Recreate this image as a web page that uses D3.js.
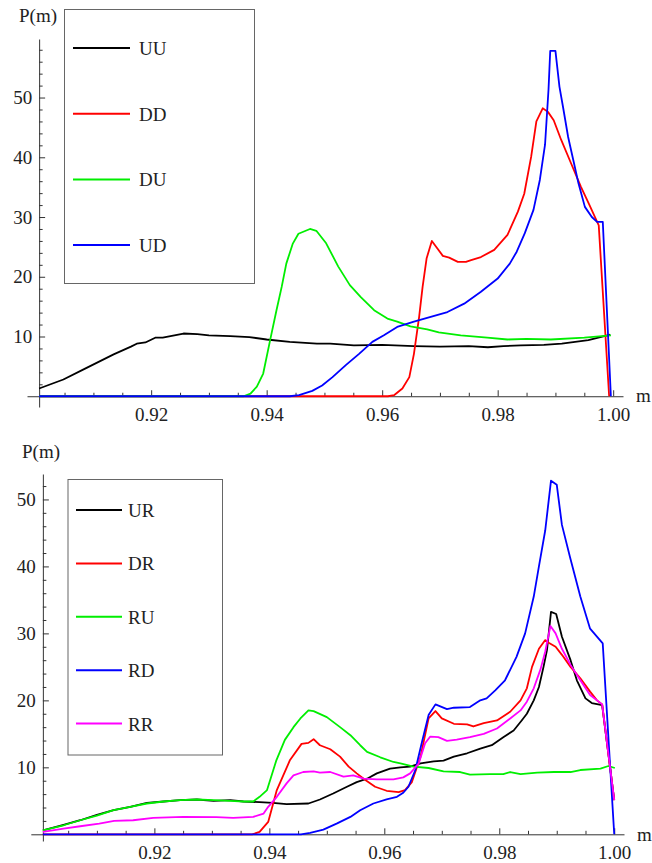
<!DOCTYPE html>
<html>
<head>
<meta charset="utf-8">
<script src="https://cdn.jsdelivr.net/npm/d3@7"></script>
<style>
  body { margin: 0; background: #fff; }
  svg text { font-family: "Liberation Serif", "Times New Roman", "DejaVu Serif", serif !important; }
</style>
</head>
<body>
<svg id="chart" width="652" height="863"></svg>
<script>
// ---- data, [m, P(m)] ----
const UU = [[0.9006,1.3],[0.9048,2.8],[0.9083,4.5],[0.9135,7.0],[0.9165,8.3],[0.9175,8.8],[0.919,9.0],[0.9207,9.8],[0.922,9.8],[0.9256,10.5],[0.928,10.4],[0.930,10.2],[0.9337,10.05],[0.937,9.9],[0.940,9.5],[0.944,9.1],[0.9487,8.8],[0.951,8.8],[0.9551,8.5],[0.960,8.6],[0.9655,8.4],[0.970,8.3],[0.975,8.4],[0.9783,8.2],[0.981,8.4],[0.984,8.5],[0.988,8.6],[0.9911,8.8],[0.9957,9.4],[0.9995,10.3]];
const DD = [[0.9006,0],[0.961,0],[0.9621,0.2],[0.9635,1.3],[0.9647,3.2],[0.9655,7.1],[0.9664,13.3],[0.967,18.3],[0.9677,23.1],[0.9686,26.0],[0.9695,24.8],[0.9705,23.5],[0.9716,23.2],[0.9731,22.5],[0.9745,22.5],[0.9754,22.8],[0.9771,23.3],[0.9794,24.5],[0.9817,27.0],[0.9835,30.9],[0.9846,33.9],[0.9858,40.1],[0.9867,46.0],[0.9878,48.2],[0.9887,47.6],[0.9897,46.2],[0.991,42.9],[0.9927,39.0],[0.9944,35.1],[0.9959,32.0],[0.9975,28.6],[0.9993,0]];
const DU = [[0.9006,0],[0.936,0],[0.9372,0.45],[0.9383,1.6],[0.9394,3.8],[0.9406,9.4],[0.9417,14.4],[0.9426,18.3],[0.9434,22.2],[0.9445,25.5],[0.9455,27.2],[0.9475,28.0],[0.9486,27.7],[0.9503,25.6],[0.9524,21.7],[0.9544,18.6],[0.9563,16.6],[0.9586,14.4],[0.9609,13.0],[0.9626,12.5],[0.9649,11.7],[0.9678,11.2],[0.9698,10.7],[0.9736,10.2],[0.9782,9.8],[0.9817,9.5],[0.985,9.6],[0.9892,9.5],[0.995,9.8],[0.9996,10.2]];
const UD = [[0.9006,0],[0.944,0],[0.9456,0.2],[0.9479,0.9],[0.9496,1.8],[0.9514,3.2],[0.9537,5.2],[0.956,7.1],[0.9583,9.1],[0.9603,10.2],[0.9626,11.6],[0.9655,12.5],[0.9684,13.3],[0.9713,14.1],[0.9742,15.5],[0.9771,17.5],[0.98,19.7],[0.9821,22.2],[0.9833,24.2],[0.9847,27.3],[0.9862,31.2],[0.9873,36.2],[0.9882,42.1],[0.9888,51.3],[0.9891,57.8],[0.99,57.8],[0.9907,51.8],[0.9913,48.5],[0.9922,43.4],[0.9931,39.5],[0.994,35.6],[0.9951,31.7],[0.9963,30.0],[0.9972,29.2],[0.9982,29.2],[0.9996,0]];

const UR = [[0.9006,0.6],[0.9042,1.4],[0.9071,2.1],[0.91,2.9],[0.9129,3.6],[0.9158,4.1],[0.9187,4.7],[0.9216,4.9],[0.9245,5.1],[0.9274,5.2],[0.9303,5.0],[0.9332,5.1],[0.9355,4.9],[0.9383,4.8],[0.9406,4.7],[0.943,4.5],[0.9468,4.6],[0.9488,5.2],[0.9511,6.1],[0.9535,7.1],[0.9552,7.8],[0.957,8.3],[0.9587,9.1],[0.961,9.8],[0.9628,10.0],[0.9645,10.1],[0.9663,10.6],[0.9686,10.9],[0.9703,11.0],[0.9721,11.6],[0.9744,12.1],[0.9767,12.8],[0.9787,13.3],[0.9807,14.5],[0.9825,15.5],[0.9839,17.0],[0.9848,18.0],[0.986,20.0],[0.9869,22.0],[0.9877,25.0],[0.9883,27.5],[0.989,33.2],[0.9899,32.9],[0.9909,29.5],[0.9924,26.0],[0.9935,23.0],[0.995,20.3],[0.9961,19.6],[0.9979,19.3],[1.0,5.1]];
const DR = [[0.9006,0],[0.937,0],[0.9383,0.35],[0.9398,1.85],[0.9413,6.6],[0.9436,11.1],[0.9456,13.5],[0.9468,13.65],[0.9477,14.2],[0.9488,13.3],[0.9506,12.7],[0.9523,11.6],[0.9538,10.1],[0.9552,9.1],[0.9567,8.1],[0.9584,7.1],[0.9604,6.5],[0.9625,6.3],[0.9636,6.6],[0.9648,7.8],[0.9663,11.6],[0.9677,17.3],[0.9689,18.4],[0.97,17.3],[0.9721,16.5],[0.9744,16.4],[0.9755,16.1],[0.9773,16.6],[0.9796,17.0],[0.9819,18.3],[0.9837,20.0],[0.9848,21.8],[0.9857,25.0],[0.9869,27.7],[0.988,29.0],[0.9886,28.6],[0.9898,28.0],[0.9909,26.8],[0.9924,25.0],[0.9941,23.3],[0.9958,21.3],[0.997,20.0],[0.9979,19.4],[1.0,5.1]];
const RU = [[0.9006,0.6],[0.9042,1.35],[0.9071,2.1],[0.91,2.8],[0.9129,3.6],[0.9158,4.1],[0.9187,4.6],[0.9216,4.9],[0.9245,5.1],[0.9274,5.2],[0.9303,5.1],[0.9332,5.0],[0.9355,4.9],[0.9372,4.9],[0.9383,5.6],[0.9396,6.6],[0.9412,11.0],[0.9427,14.1],[0.9442,16.0],[0.9454,17.3],[0.9468,18.5],[0.9477,18.4],[0.95,17.5],[0.9523,16.0],[0.9541,14.8],[0.9558,13.3],[0.957,12.3],[0.9593,11.5],[0.9616,10.8],[0.9628,10.6],[0.9651,10.1],[0.9677,9.9],[0.9703,9.4],[0.9732,9.3],[0.9749,8.9],[0.9784,9.0],[0.9807,9.0],[0.9819,9.3],[0.9837,9.0],[0.9866,9.2],[0.9895,9.3],[0.9924,9.3],[0.9941,9.6],[0.9976,9.8],[0.999,10.2],[1.0001,9.9]];
const RD = [[0.9006,0],[0.9455,0],[0.9471,0.2],[0.9494,0.7],[0.9517,1.6],[0.9541,2.6],[0.9558,3.6],[0.9581,4.6],[0.9604,5.2],[0.9622,5.6],[0.9633,6.2],[0.9642,7.1],[0.9654,9.6],[0.9665,13.6],[0.9677,17.8],[0.9689,19.4],[0.9709,18.7],[0.9721,18.9],[0.9749,19.0],[0.9767,20.0],[0.9778,20.3],[0.9793,21.5],[0.981,23.0],[0.983,26.5],[0.9845,30.0],[0.986,35.5],[0.9869,40.0],[0.988,45.4],[0.989,52.8],[0.99,52.2],[0.9909,46.2],[0.9923,41.4],[0.9941,35.5],[0.9958,30.7],[0.998,28.5],[1.0,0]];
const RR = [[0.9006,0.35],[0.9042,0.85],[0.9071,1.2],[0.9104,1.6],[0.913,2.0],[0.9163,2.1],[0.9198,2.45],[0.925,2.6],[0.9308,2.55],[0.9337,2.45],[0.9372,2.6],[0.939,3.1],[0.9398,4.1],[0.9413,5.6],[0.943,7.6],[0.9442,8.8],[0.9459,9.3],[0.9477,9.4],[0.9488,9.2],[0.9506,9.3],[0.9529,8.6],[0.9546,8.8],[0.9564,8.3],[0.9587,8.2],[0.9616,8.2],[0.9633,8.5],[0.9645,9.1],[0.966,10.6],[0.9671,13.6],[0.968,14.6],[0.9694,14.5],[0.9709,13.95],[0.9726,14.15],[0.9749,14.5],[0.9773,15.0],[0.9796,15.8],[0.9819,17.3],[0.9837,18.5],[0.9848,19.8],[0.986,21.8],[0.9872,24.7],[0.988,27.3],[0.9889,31.1],[0.9898,30.0],[0.9909,27.7],[0.9924,25.3],[0.9941,23.0],[0.9958,20.8],[0.9979,19.4],[1.0,5.1]];

const topNames = ['UU', 'DD', 'DU', 'UD'];
const bottomNames = ['UR', 'DR', 'RU', 'RD', 'RR'];
const xTicks = [0.92, 0.94, 0.96, 0.98, 1.00];
const yTicks = [10, 20, 30, 40, 50];

const colors = ['#000000', '#ff0000', '#00ee00', '#0000ff', '#ff00ff'];
const svg = d3.select('#chart');

function panel(opt) {
    const g = svg.append('g');
    const x = d3.scaleLinear().domain([0.8985, 1.0017]).range(opt.xr);
    const y = d3.scaleLinear().domain(opt.yd).range(opt.yr);
    const x0 = 0.9006;

    // x axis: major + minor ticks pointing up into the plot
    const minorX = d3.range(0.905, 1.0001, 0.005).filter(v => !xTicks.some(t => Math.abs(t - v) < 1e-6));
    const gx = g.append('g').attr('transform', `translate(0,${y(0)})`);
    gx.call(d3.axisBottom(x).tickValues(xTicks).tickFormat(d3.format('.2f')).tickSize(-6).tickSizeOuter(0).tickPadding(11));
    gx.append('g').call(d3.axisBottom(x).tickValues(minorX).tickFormat('').tickSize(-3.5).tickSizeOuter(0))
      .select('.domain').remove();

    // y axis
    const minorY = d3.range(2, opt.yd[1], 2).filter(v => v % 10 !== 0);
    const gy = g.append('g').attr('transform', `translate(${x(x0)},0)`);
    gy.call(d3.axisLeft(y).tickValues(yTicks).tickSize(-6).tickSizeOuter(0).tickPadding(7));
    gy.append('g').call(d3.axisLeft(y).tickValues(minorY).tickFormat('').tickSize(-3.5).tickSizeOuter(0))
      .select('.domain').remove();

    g.selectAll('.domain, .tick line').attr('stroke', '#333');
    g.selectAll('.tick text').attr('font-size', 19).attr('fill', '#222');

    g.append('text').attr('x', opt.pm[0]).attr('y', opt.pm[1]).attr('font-size', 19).attr('fill', '#222').text('P(m)');
    g.append('text').attr('x', opt.mm[0]).attr('y', opt.mm[1]).attr('font-size', 19).attr('fill', '#222').text('m');

    // curves
    const line = d3.line().x(d => x(d[0])).y(d => y(d[1]));
    opt.series.forEach((s, i) => {
        g.append('path').datum(s).attr('fill', 'none').attr('stroke', colors[i])
          .attr('stroke-width', 1.8).attr('stroke-linejoin', 'round').attr('d', line);
    });

    // legend
    const L = opt.legend;
    g.append('rect').attr('x', L.x).attr('y', L.y).attr('width', L.w).attr('height', L.h)
      .attr('fill', '#fff').attr('stroke', '#666').attr('stroke-width', 1);
    opt.names.forEach((name, i) => {
        const ly = L.first + i * L.step;
        g.append('line').attr('x1', L.lx[0]).attr('x2', L.lx[1]).attr('y1', ly).attr('y2', ly)
          .attr('stroke', colors[i]).attr('stroke-width', 2);
        g.append('text').attr('x', L.tx).attr('y', ly + 7).attr('font-size', 19).attr('fill', '#222').text(name);
    });
}

panel({
    xr: [27, 623], yd: [-1.8, 59.8], yr: [407, 39],
    series: [UU, DD, DU, UD], names: topNames,
    pm: [19, 22], mm: [636, 402],
    legend: { x: 64.5, y: 9.5, w: 190, h: 274, first: 48, step: 65.7, lx: [73, 130], tx: 139 }
});

panel({
    xr: [30.8, 624], yd: [-1.0, 53.8], yr: [841, 474],
    series: [UR, DR, RU, RD, RR], names: bottomNames,
    pm: [22, 458], mm: [637, 841],
    legend: { x: 68, y: 479.5, w: 154.5, h: 275.5, first: 510, step: 53.4, lx: [76, 122], tx: 128 }
});
</script>
</body>
</html>
